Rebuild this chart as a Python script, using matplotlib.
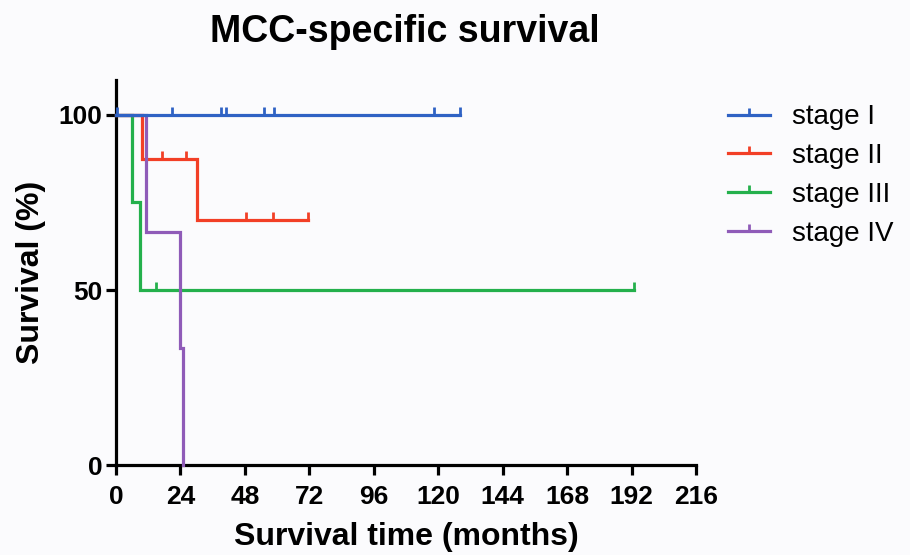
import matplotlib
matplotlib.use("Agg")
import matplotlib.pyplot as plt
from matplotlib.path import Path
from matplotlib.lines import Line2D

# Kaplan-Meier curves (months, % surviving)
labels = ["stage I", "stage II", "stage III", "stage IV"]
colors = ["#2f62c4", "#f23f26", "#24b04c", "#8f5bb8"]

step_times = [
    [0, 128],
    [0, 9.5, 30.3, 71.5],
    [0, 6, 9, 193],
    [0, 11, 24, 25],
]
step_surv = [
    [100, 100],
    [100, 87.5, 70, 70],
    [100, 75, 50, 50],
    [100, 66.7, 33.3, 0],
]
censor_times = [
    [0.5, 21, 39, 41, 55, 59, 118.5, 128],
    [17, 26, 48.5, 58.5, 71.5],
    [15, 193],
    [],
]
censor_surv = [
    [100, 100, 100, 100, 100, 100, 100, 100],
    [87.5, 87.5, 70, 70, 70],
    [50, 50],
    [],
]
xticks = [0, 24, 48, 72, 96, 120, 144, 168, 192, 216]
yticks = [0, 50, 100]

plt.rcParams["font.family"] = ["Liberation Sans", "DejaVu Sans"]

# upward censor tick
tick = Path([(0, 0), (0, 1)], [Path.MOVETO, Path.LINETO])

bg = "#fbfbfd"
fig = plt.figure(figsize=(9.1, 5.55), dpi=100, facecolor=bg)
ax = fig.add_axes([0.1275, 0.162, 0.6375, 0.694], facecolor=bg)

order = [2, 1, 3, 0]
for i in order:
    ax.step(step_times[i], step_surv[i], where="post", color=colors[i], lw=2.3,
            zorder=3 + order.index(i), solid_joinstyle="miter", clip_on=False)
    if censor_times[i]:
        ax.plot(censor_times[i], censor_surv[i], ls="none", marker=tick, ms=11,
                mew=2.0, color=colors[i], zorder=3 + order.index(i), clip_on=False)

ax.set_xlim(0, 216)
ax.set_ylim(0, 110)
ax.set_xticks(xticks)
ax.set_yticks(yticks)
for s in ["top", "right"]:
    ax.spines[s].set_visible(False)
for s in ["left", "bottom"]:
    ax.spines[s].set_linewidth(2.3)
ax.tick_params(width=2.3, length=7, labelsize=19)
ax.tick_params(axis="x", pad=7)
ax.tick_params(axis="y", pad=3)
for lab in ax.get_xticklabels() + ax.get_yticklabels():
    lab.set_fontweight("bold")

ax.set_xlabel("Survival time (months)", fontsize=23, fontweight="bold", labelpad=10)
ax.set_ylabel("Survival (%)", fontsize=23, fontweight="bold", labelpad=9)
fig.suptitle("MCC-specific survival", x=0.445, y=0.975, fontsize=27, fontweight="bold")

handles = [Line2D([], [], color=c, lw=2.3, marker=tick, ms=10, mew=2.0) for c in colors]
fig.legend(handles, labels, loc="upper left", bbox_to_anchor=(0.773, 0.857),
           frameon=False, fontsize=20, handlelength=1.5, labelspacing=0.46,
           handletextpad=0.8)

fig.savefig("out.png", dpi=100, facecolor=bg)
